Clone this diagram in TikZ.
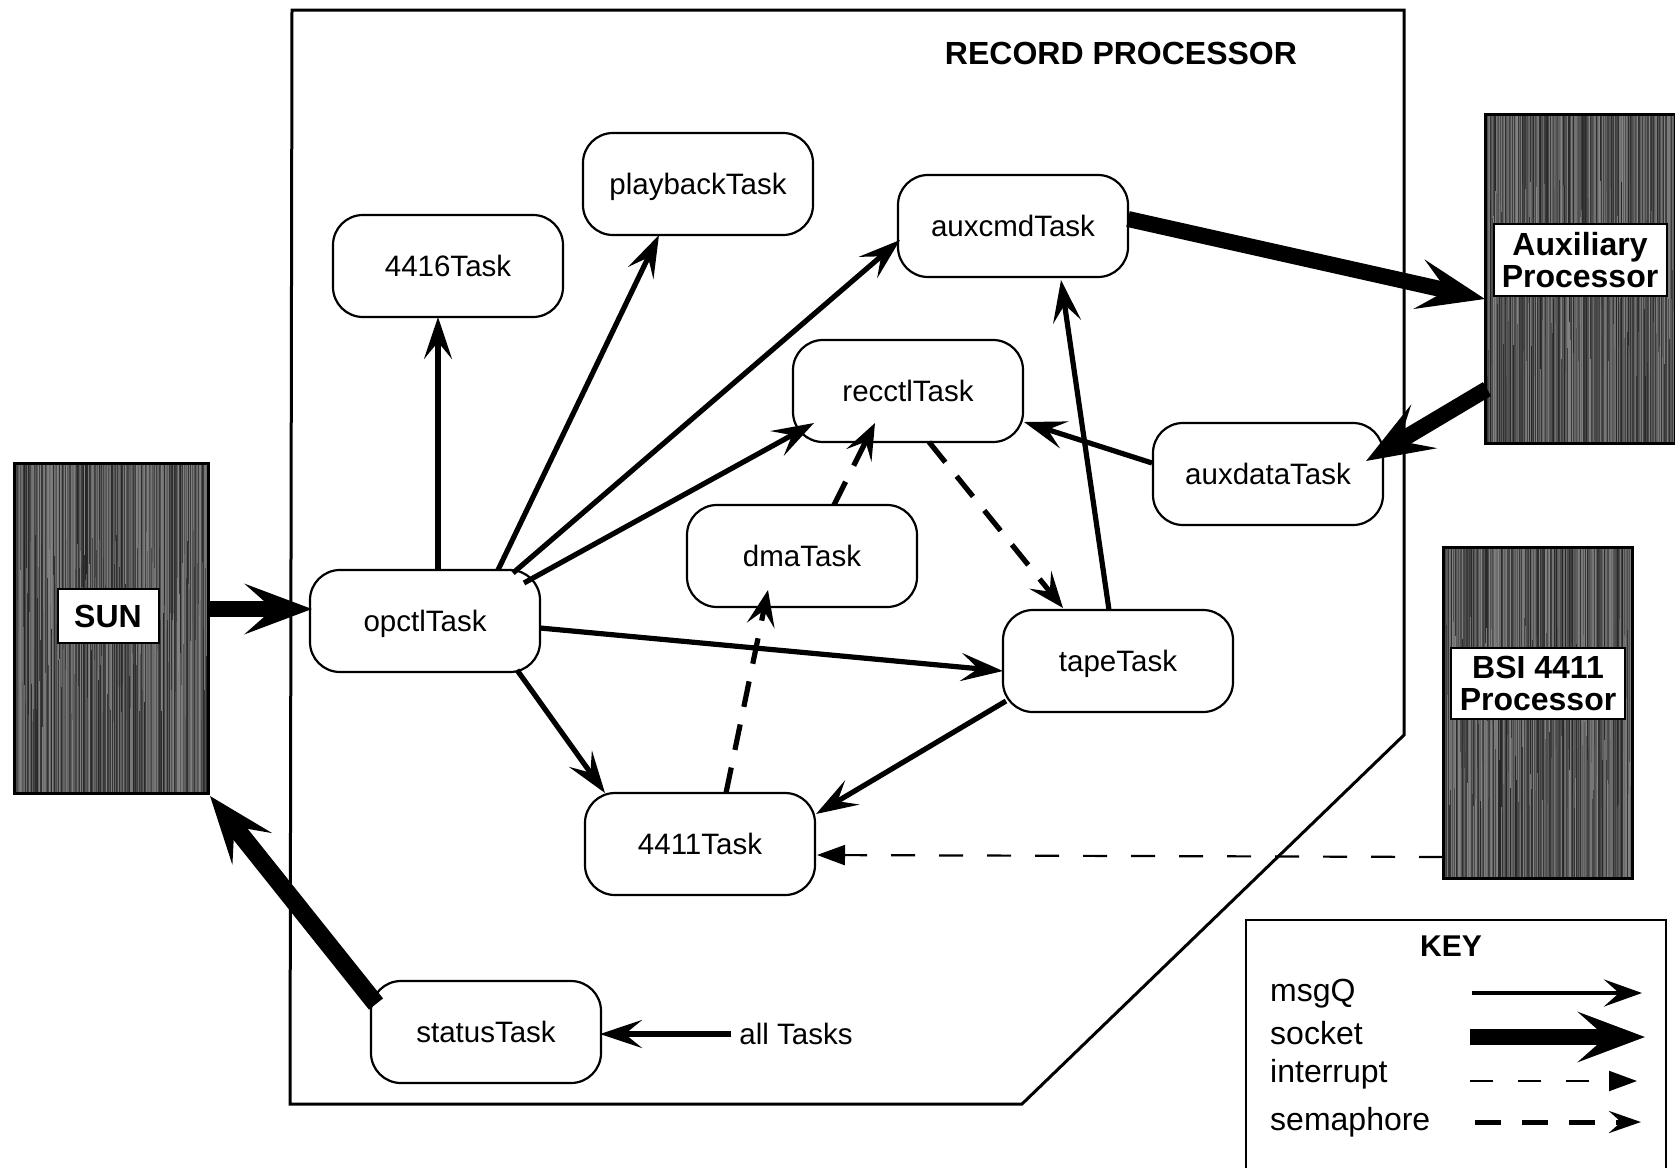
\documentclass[tikz,border=0pt]{standalone}
\usepackage{fontspec}
\setmainfont{Liberation Sans}
\usetikzlibrary{arrows.meta}
\newcommand\myStreaks[4]{%
  \fill[black!68] (#1,#2) rectangle (#3,#4);
  \pgfmathtruncatemacro\sxa{#1+1}%
  \pgfmathtruncatemacro\sxb{#1+2}%
  \pgfmathtruncatemacro\sxc{#3-1}%
  \foreach \x in {\sxa,\sxb,...,\sxc} {%
    \pgfmathtruncatemacro\g{48+38*rnd}%
    \pgfmathsetmacro\ym{#2+(#4-#2)*(0.2+0.6*rnd)}%
    \pgfmathtruncatemacro\h{48+38*rnd}%
    \draw[black!\g, line width=1.1pt] (\x,#2) -- (\x,\ym);
    \draw[black!\h, line width=1.1pt] (\x,\ym) -- (\x,#4);
  }%
}
\begin{document}
\begin{tikzpicture}[x=1pt,y=-1pt,
  task/.style={draw, line width=2.2pt, rounded corners=30pt, minimum width=230pt,
    minimum height=102pt, inner sep=0pt, text height=21pt, text depth=0pt,
    font=\fontsize{29.5}{34}\selectfont},
  msgq/.style={line width=5.2pt, -{Stealth[length=42pt,width=28pt,inset=17pt]}},
  socket/.style={line width=16pt, -{Stealth[length=67pt,width=50pt,inset=28pt]}},
  intr/.style={line width=2.2pt, dash pattern=on 24pt off 24pt, -{Triangle[length=28pt,width=20pt]}},
  sema/.style={line width=5.2pt, dash pattern=on 26pt off 18pt, -{Stealth[length=36pt,width=28pt,inset=15pt]}},
  extbox/.style={draw, line width=3pt, inner sep=0pt},
  extlabel/.style={fill=white, draw, line width=2pt, inner sep=0pt, align=center,
    font=\fontsize{32}{32}\bfseries\selectfont},
  keyfont/.style={font=\fontsize{32}{36}\selectfont, inner sep=0pt}
]
\useasboundingbox (0,0) rectangle (1675,1167);
\pgfmathsetseed{7}

% record processor outline
\draw[line width=3pt] (292,10) -- (1404,10) -- (1404,735) -- (1022,1104) -- (290,1104) -- cycle;
\node[font=\fontsize{32}{36}\bfseries\selectfont] (title) at (1121,53) {RECORD PROCESSOR};

% external processors
\myStreaks{14}{463}{208}{793}
\node[extbox, minimum width=194pt, minimum height=330pt] (sun) at (111,628) {};
\node[extlabel, minimum width=101pt, minimum height=54pt] (sunl) at (108,616) {SUN};

\myStreaks{1485}{114}{1675}{443}
\node[extbox, minimum width=190pt, minimum height=329pt] (aux) at (1580,278.5) {};
\node[extlabel, minimum width=173pt, minimum height=72pt] (auxl) at (1580,260) {Auxiliary\\Processor};

\myStreaks{1443}{547}{1632}{878}
\node[extbox, minimum width=189pt, minimum height=331pt] (bsi) at (1537.5,712.5) {};
\node[extlabel, minimum width=174pt, minimum height=71pt] (bsil) at (1538,683) {BSI 4411\\Processor};

% tasks
\node[task] (playback) at (698,184) {playbackTask};
\node[task] (t4416) at (448,266) {4416Task};
\node[task] (auxcmd) at (1013,226) {auxcmdTask};
\node[task] (recctl) at (908,391) {recctlTask};
\node[task] (auxdata) at (1268,474) {auxdataTask};
\node[task] (dma) at (802,556) {dmaTask};
\node[task] (opctl) at (425,621) {opctlTask};
\node[task] (tape) at (1118,661) {tapeTask};
\node[task] (t4411) at (700,844) {4411Task};
\node[task] (status) at (486,1032) {statusTask};
\node[font=\fontsize{29.5}{34}\selectfont, inner sep=0pt, text height=21pt, text depth=0pt] (all) at (796,1034) {all Tasks};

% msgQ connectors
\draw[msgq] ([shift={(13,-51)}]opctl.center) -- ([shift={(-10,51)}]t4416.center);
\draw[msgq] ([shift={(73,-51)}]opctl.center) -- ([shift={(-39,51)}]playback.center);
\draw[msgq] ([shift={(88,-48)}]opctl.center) -- ([shift={(-113,14)}]auxcmd.center);
\draw[msgq] ([shift={(99,-38)}]opctl.center) -- ([shift={(-94,32)}]recctl.center);
\draw[msgq] ([shift={(115,7)}]opctl.center) -- ([shift={(-115,10)}]tape.center);
\draw[msgq] ([shift={(92,49)}]opctl.center) -- ([shift={(-95,-51)}]t4411.center);
\draw[msgq] ([shift={(-112,40)}]tape.center) -- ([shift={(116,-30)}]t4411.center);
\draw[msgq] ([shift={(-9,-51)}]tape.center) -- ([shift={(48,54)}]auxcmd.center);
\draw[msgq] ([shift={(-116,-11)}]auxdata.center) -- ([shift={(116,31)}]recctl.center);
\draw[msgq] (all.west) ++(-8,0) -- ([shift={(114,2)}]status.center);

% semaphores
\draw[sema] ([shift={(21,51)}]recctl.center) -- ([shift={(-55,-53)}]tape.center);
\draw[sema] ([shift={(32,-51)}]dma.center) -- ([shift={(-33,32)}]recctl.center);
\draw[sema] ([shift={(26,-51)}]t4411.center) -- ([shift={(-34,34)}]dma.center);

% interrupt
\draw[intr] ([shift={(-94.5,144.5)}]bsi.center) -- ([shift={(117,11)}]t4411.center);

% sockets
\draw[socket] ([shift={(97,-19)}]sun.center) -- ([shift={(-113,-12)}]opctl.center);
\draw[socket, line width=18pt] ([shift={(-110,-28)}]status.center) -- ([shift={(99,168)}]sun.center);
\draw[socket] ([shift={(115,-7)}]auxcmd.center) -- ([shift={(-95,20.5)}]aux.center);
\draw[socket] ([shift={(-93,110.5)}]aux.center) -- ([shift={(98,-13)}]auxdata.center);

% key
\draw[line width=2.5pt] (1246,1170) -- (1246,920) -- (1666,920) -- (1666,1170);
\node[font=\fontsize{30}{34}\bfseries\selectfont] (keyt) at (1451,946) {KEY};
\node[keyfont, anchor=base west] (kmsg) at (1270,1001) {msgQ};
\node[keyfont, anchor=base west] (ksock) at (1270,1044) {socket};
\node[keyfont, anchor=base west] (kint) at (1270,1082) {interrupt};
\node[keyfont, anchor=base west] (ksem) at (1270,1130) {semaphore};
\coordinate (k1a) at (1472,993);  \coordinate (k1b) at (1642,993);
\coordinate (k2a) at (1470,1037); \coordinate (k2b) at (1645,1037);
\coordinate (k3a) at (1470,1081); \coordinate (k3b) at (1637,1081);
\coordinate (k4a) at (1475,1122); \coordinate (k4b) at (1641,1122);
\draw[msgq, line width=4.5pt, -{Stealth[length=38pt,width=27pt,inset=15pt]}] (k1a) -- (k1b);
\draw[socket] (k2a) -- (k2b);
\draw[intr, dash pattern=on 23pt off 25pt] (k3a) -- (k3b);
\draw[sema, line width=5pt, dash pattern=on 26pt off 21pt, -{Stealth[length=32pt,width=22pt,inset=12pt]}] (k4a) -- (k4b);
\end{tikzpicture}
\end{document}
